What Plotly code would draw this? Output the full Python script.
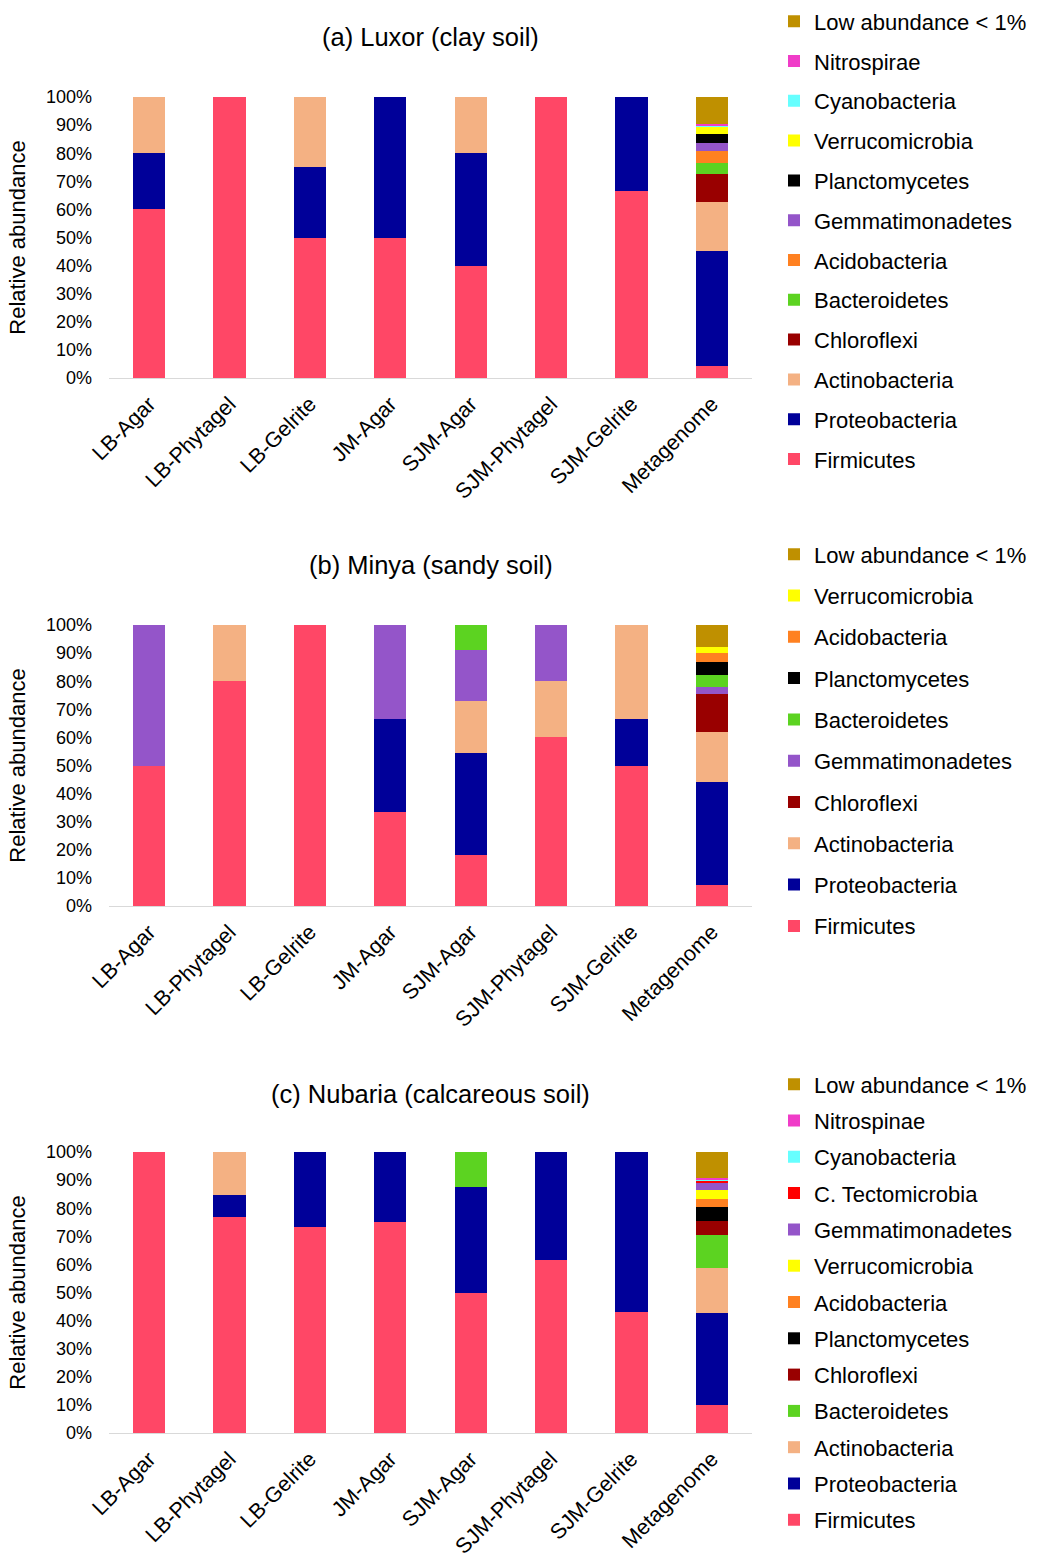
import plotly.graph_objects as go

samples = ["LB-Agar", "LB-Phytagel", "LB-Gelrite", "JM-Agar",
           "SJM-Agar", "SJM-Phytagel", "SJM-Gelrite", "Metagenome"]

# Relative abundance (%) per phylum, listed from the bottom of each stack upwards
luxor = {
    "Firmicutes":       [60, 100, 50, 50, 40, 100, 66.7, 4.3],
    "Proteobacteria":   [20, 0, 25, 50, 40, 0, 33.3, 41.0],
    "Actinobacteria":   [20, 0, 25, 0, 20, 0, 0, 17.3],
    "Chloroflexi":      [0, 0, 0, 0, 0, 0, 0, 10.1],
    "Bacteroidetes":    [0, 0, 0, 0, 0, 0, 0, 3.8],
    "Acidobacteria":    [0, 0, 0, 0, 0, 0, 0, 4.4],
    "Gemmatimonadetes": [0, 0, 0, 0, 0, 0, 0, 2.7],
    "Planctomycetes":   [0, 0, 0, 0, 0, 0, 0, 3.3],
    "Verrucomicrobia":  [0, 0, 0, 0, 0, 0, 0, 2.5],
    "Cyanobacteria":    [0, 0, 0, 0, 0, 0, 0, 0.6],
    "Nitrospirae":      [0, 0, 0, 0, 0, 0, 0, 0.4],
    "Low abundance < 1%": [0, 0, 0, 0, 0, 0, 0, 9.6],
}

minya = {
    "Firmicutes":       [50, 80, 100, 33.3, 18.2, 60, 50, 7.6],
    "Proteobacteria":   [0, 0, 0, 33.3, 36.4, 0, 16.7, 36.7],
    "Actinobacteria":   [0, 20, 0, 0, 18.2, 20, 33.3, 17.5],
    "Chloroflexi":      [0, 0, 0, 0, 0, 0, 0, 13.5],
    "Gemmatimonadetes": [50, 0, 0, 33.4, 18.2, 20, 0, 2.7],
    "Bacteroidetes":    [0, 0, 0, 0, 9.0, 0, 0, 4.3],
    "Planctomycetes":   [0, 0, 0, 0, 0, 0, 0, 4.6],
    "Acidobacteria":    [0, 0, 0, 0, 0, 0, 0, 3.3],
    "Verrucomicrobia":  [0, 0, 0, 0, 0, 0, 0, 1.9],
    "Low abundance < 1%": [0, 0, 0, 0, 0, 0, 0, 7.9],
}

nubaria = {
    "Firmicutes":       [100, 76.9, 73.3, 75, 50, 61.5, 42.9, 9.8],
    "Proteobacteria":   [0, 7.7, 26.7, 25, 37.5, 38.5, 57.1, 32.9],
    "Actinobacteria":   [0, 15.4, 0, 0, 0, 0, 0, 16.1],
    "Bacteroidetes":    [0, 0, 0, 0, 12.5, 0, 0, 11.8],
    "Chloroflexi":      [0, 0, 0, 0, 0, 0, 0, 4.9],
    "Planctomycetes":   [0, 0, 0, 0, 0, 0, 0, 4.8],
    "Acidobacteria":    [0, 0, 0, 0, 0, 0, 0, 3.1],
    "Verrucomicrobia":  [0, 0, 0, 0, 0, 0, 0, 3.2],
    "Gemmatimonadetes": [0, 0, 0, 0, 0, 0, 0, 2.5],
    "C. Tectomicrobia": [0, 0, 0, 0, 0, 0, 0, 0.6],
    "Cyanobacteria":    [0, 0, 0, 0, 0, 0, 0, 0.5],
    "Nitrospinae":      [0, 0, 0, 0, 0, 0, 0, 0.6],
    "Low abundance < 1%": [0, 0, 0, 0, 0, 0, 0, 9.2],
}

colors = {
    "Firmicutes": "#FF4766",
    "Proteobacteria": "#000099",
    "Actinobacteria": "#F4B183",
    "Chloroflexi": "#990000",
    "Bacteroidetes": "#5CD321",
    "Acidobacteria": "#FF8121",
    "Gemmatimonadetes": "#9455C9",
    "Planctomycetes": "#000000",
    "Verrucomicrobia": "#FFFF00",
    "Cyanobacteria": "#66FFFF",
    "Nitrospirae": "#F03CC8",
    "Nitrospinae": "#F03CC8",
    "C. Tectomicrobia": "#FF0000",
    "Low abundance < 1%": "#BF9000",
}

titles = ["(a) Luxor (clay soil)", "(b) Minya (sandy soil)",
          "(c) Nubaria (calcareous soil)"]

tick_values = list(range(0, 101, 10))
tick_labels = [f"{v}%" for v in tick_values]

W, H = 1037, 1558
FONT = "Liberation Sans, Arial, sans-serif"

# plot area (pixels) shared by the three panels; margins hold labels/legends
PL, PR, PT, PB = 109, 752, 97, 1433
PW, PH = PR - PL, PB - PT


def px_x(px):
    return (px - PL) / PW


def px_y(py):
    return 1 - (py - PT) / PH


# pixel layout of each panel:
# (data, plot top, plot bottom, title centre, legend top, legend gap)
panels = [
    (luxor, 97, 378, 37, 0.4, 8.2),
    (minya, 625, 906, 565, 533.4, 9.7),
    (nubaria, 1152, 1433, 1094, 1063.4, 4.7),
]

fig = go.Figure()
annotations = []

for i, (data, top, bot, ttl_y, leg_top, gap) in enumerate(panels):
    n = i + 1
    xa = "x" if n == 1 else f"x{n}"
    ya = "y" if n == 1 else f"y{n}"
    leg = "legend" if n == 1 else f"legend{n}"
    names = list(data.keys())
    for k, name in enumerate(names):
        fig.add_trace(go.Bar(
            x=samples, y=data[name], name=name,
            marker=dict(color=colors[name], line=dict(width=0)),
            xaxis=xa, yaxis=ya, legend=leg,
            legendgroup=f"p{n}-{name}",
            legendrank=len(names) - k,
            width=0.4,
        ))

    xkey = "xaxis" if n == 1 else f"xaxis{n}"
    ykey = "yaxis" if n == 1 else f"yaxis{n}"
    fig.update_layout(**{
        xkey: dict(
            domain=[0, 1], anchor=ya,
            showline=True, linecolor="#d9d9d9", linewidth=1,
            showgrid=False, zeroline=False, ticks="",
            tickangle=-45, tickfont=dict(size=21.5, color="#000", family=FONT),
            ticklabelstandoff=4, automargin=False,
            categoryorder="array", categoryarray=samples,
        ),
        ykey: dict(
            domain=[px_y(bot), px_y(top)], anchor=xa, range=[0, 100],
            tickmode="array", tickvals=tick_values, ticktext=tick_labels,
            showgrid=False, zeroline=False, showline=False, ticks="",
            tickfont=dict(size=18, color="#000", family=FONT),
            ticklabelstandoff=16, automargin=False,
            title=dict(text="Relative abundance", standoff=14,
                       font=dict(size=22, color="#000", family=FONT)),
        ),
        leg: dict(
            x=px_x(774), xanchor="left", y=px_y(leg_top), yanchor="top",
            xref="paper", yref="paper",
            traceorder="grouped", tracegroupgap=gap,
            font=dict(size=22, color="#000", family=FONT),
            bgcolor="rgba(0,0,0,0)", borderwidth=0,
        ),
    })
    annotations.append(dict(
        text=titles[i], x=px_x((PL + PR) / 2), y=px_y(ttl_y),
        xref="paper", yref="paper", showarrow=False,
        xanchor="center", yanchor="middle",
        font=dict(size=25.5, color="#000", family=FONT),
    ))

fig.update_layout(
    width=W, height=H,
    margin=dict(l=PL, r=W - PR, t=PT, b=H - PB, pad=0, autoexpand=False),
    barmode="stack",
    paper_bgcolor="white", plot_bgcolor="white",
    annotations=annotations,
    showlegend=True,
    font=dict(family=FONT, color="#000"),
)

fig.write_html("out.html")
